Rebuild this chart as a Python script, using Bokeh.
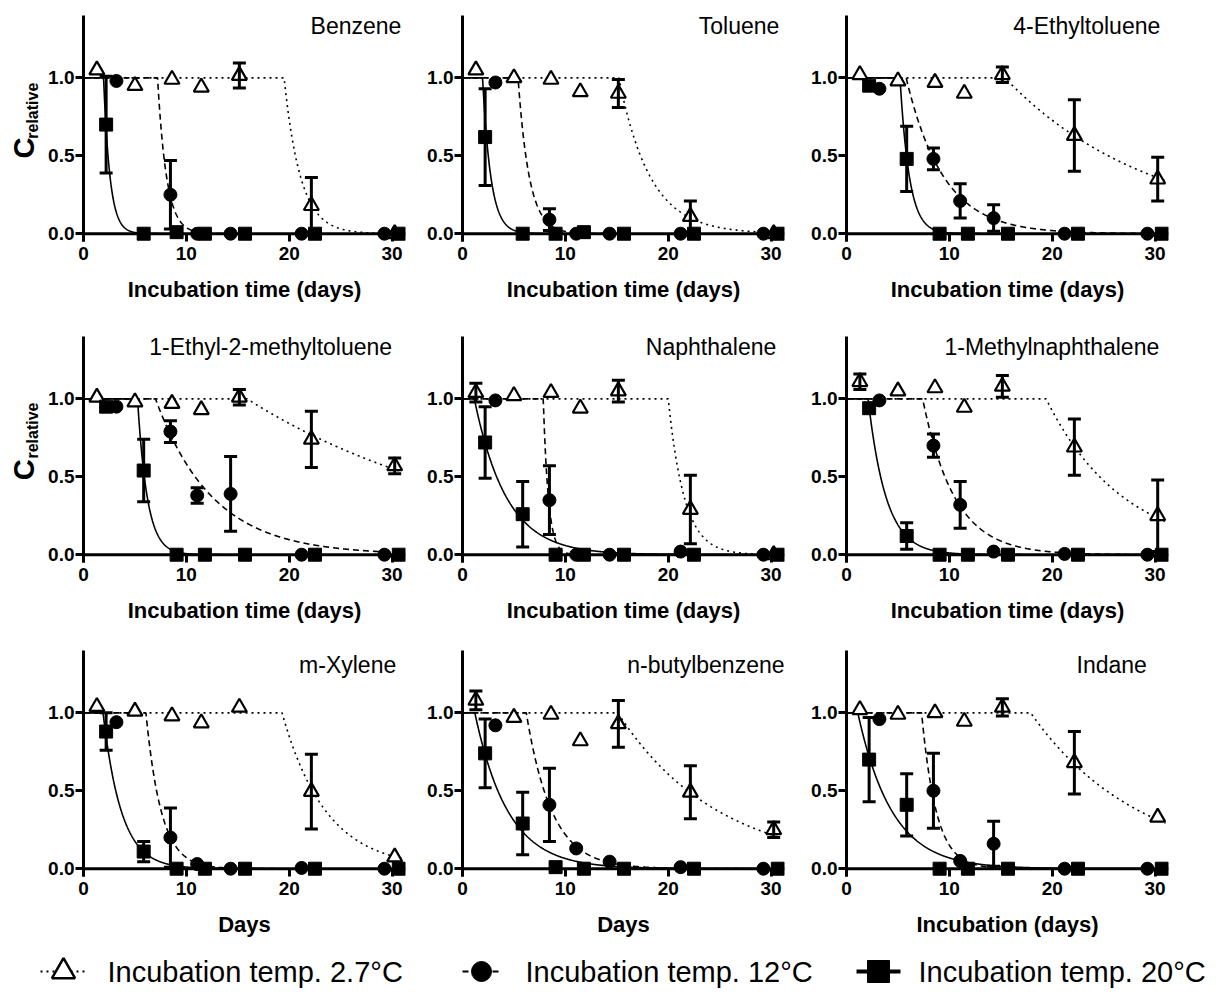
import numpy as np
from bokeh.plotting import figure
from bokeh.layouts import column, row
from bokeh.models import FixedTicker, PrintfTickFormatter, Range1d, Span, Spacer, Label
from bokeh.embed import file_html
from bokeh.resources import INLINE
from bokeh.core.properties import value

# ---------------- data ----------------
compounds = ["Benzene", "Toluene", "4-Ethyltoluene",
             "1-Ethyl-2-methyltoluene", "Naphthalene", "1-Methylnaphthalene",
             "m-Xylene", "n-butylbenzene", "Indane"]
x_titles = ["Incubation time (days)"] * 6 + ["Days", "Days", "Incubation (days)"]
legend_labels = ["Incubation temp. 2.7°C", "Incubation temp. 12°C", "Incubation temp. 20°C"]
x_ticks = [0, 10, 20, 30]
y_ticks = [0.0, 0.5, 1.0]

# sampling days for each incubation temperature
t_tri = [1.3, 5.0, 8.6, 11.45, 15.15, 22.15, 30.25]   # 2.7 C
t_cir = [3.2, 8.45, 11.05, 14.3, 21.2, 29.25]        # 12 C
t_sq = [2.2, 5.85, 9.05, 11.8, 15.7, 22.5, 30.65]     # 20 C

# relative concentrations, 2.7 C (triangles)
tri_vals = [
    [1.05, 0.95, 0.99, 0.94, 1.015, 0.18, 0.0],
    [1.05, 1.00, 0.99, 0.91, 0.90, 0.11, 0.0],
    [1.02, 0.98, 0.97, 0.90, 1.02, 0.63, 0.35],
    [1.01, 0.98, 0.97, 0.93, 1.01, 0.74, 0.57],
    [1.04, 1.02, 1.04, 0.94, 1.05, 0.29, 0.0],
    [1.11, 1.05, 1.07, 0.945, 1.08, 0.69, 0.25],
    [1.04, 1.01, 0.98, 0.935, 1.035, 0.495, 0.075],
    [1.08, 0.97, 0.99, 0.82, 0.93, 0.49, 0.25],
    [1.02, 0.99, 1.00, 0.945, 1.035, 0.68, 0.33],
]
tri_errs = [
    [0, 0, 0, 0, 0.08, 0.18, 0],
    [0, 0, 0, 0, 0.09, 0.10, 0],
    [0, 0, 0, 0, 0.05, 0.23, 0.14],
    [0, 0, 0, 0, 0.05, 0.18, 0.05],
    [0.06, 0, 0, 0, 0.07, 0.22, 0],
    [0.05, 0, 0, 0, 0.07, 0.18, 0.23],
    [0, 0, 0, 0, 0, 0.24, 0],
    [0.06, 0, 0, 0, 0.15, 0.17, 0.05],
    [0, 0, 0, 0, 0.055, 0.20, 0],
]
# 12 C (circles)
cir_vals = [
    [0.98, 0.25, 0.0, 0.0, 0.0, 0.0],
    [0.97, 0.09, 0.0, 0.0, 0.0, 0.0],
    [0.93, 0.48, 0.21, 0.10, 0.0, 0.0],
    [0.95, 0.79, 0.38, 0.39, 0.0, 0.0],
    [0.99, 0.35, 0.0, 0.0, 0.02, 0.0],
    [0.99, 0.70, 0.32, 0.02, 0.005, 0.0],
    [0.94, 0.20, 0.03, 0.0, 0.005, 0.0],
    [0.92, 0.41, 0.13, 0.045, 0.01, 0.0],
    [0.96, 0.50, 0.05, 0.16, 0.0, 0.0],
]
cir_errs = [
    [0, 0.22, 0, 0, 0, 0],
    [0, 0.07, 0, 0, 0, 0],
    [0, 0.07, 0.11, 0.085, 0, 0],
    [0, 0.07, 0.05, 0.24, 0, 0],
    [0, 0.22, 0, 0, 0, 0],
    [0, 0.075, 0.15, 0, 0, 0],
    [0, 0.19, 0, 0, 0, 0],
    [0, 0.235, 0, 0, 0, 0],
    [0, 0.24, 0, 0.145, 0, 0],
]
# 20 C (squares)
sq_vals = [
    [0.70, 0.0, 0.01, 0.0, 0.0, 0.0, 0.0],
    [0.62, 0.0, 0.0, 0.01, 0.0, 0.0, 0.0],
    [0.95, 0.48, 0.0, 0.0, 0.0, 0.0, 0.0],
    [0.95, 0.54, 0.0, 0.0, 0.0, 0.0, 0.0],
    [0.72, 0.26, 0.0, 0.0, 0.0, 0.0, 0.0],
    [0.94, 0.12, 0.0, 0.0, 0.0, 0.0, 0.0],
    [0.88, 0.11, 0.0, 0.0, 0.0, 0.0, 0.0],
    [0.74, 0.29, 0.01, 0.0, 0.0, 0.0, 0.0],
    [0.70, 0.41, 0.0, 0.0, 0.0, 0.0, 0.0],
]
sq_errs = [
    [0.31, 0, 0, 0, 0, 0, 0],
    [0.31, 0, 0, 0, 0, 0, 0],
    [0, 0.21, 0, 0, 0, 0, 0],
    [0, 0.20, 0, 0, 0, 0, 0],
    [0.23, 0.21, 0, 0, 0, 0, 0],
    [0, 0.085, 0, 0, 0, 0, 0],
    [0.12, 0.065, 0, 0, 0, 0, 0],
    [0.22, 0.20, 0, 0, 0, 0, 0],
    [0.27, 0.20, 0, 0, 0, 0, 0],
]
# fitted lag-exponential model parameters (lag in days, rate per day)
tri_lag = [19.5, 15.2, 15.4, 15.9, 20.0, 19.4, 19.3, 15.1, 17.9]
tri_k = [0.63, 0.33, 0.069, 0.042, 0.64, 0.133, 0.234, 0.102, 0.094]
cir_lag = [7.2, 5.4, 5.8, 7.0, 7.85, 7.4, 6.07, 6.2, 7.3]
cir_k = [1.15, 0.92, 0.276, 0.18, 2.0, 0.32, 0.67, 0.40, 0.70]
sq_lag = [1.95, 1.95, 5.2, 5.25, 1.15, 2.1, 1.9, 1.2, 1.1]
sq_k = [1.6, 1.25, 1.1, 1.05, 0.32, 0.57, 0.56, 0.31, 0.30]

# ---------------- layout ----------------
FONT = "Liberation Sans"
LBL_W = 40
col_w = [375, 379, 384]
col_left = [43, 47, 52]
row_h = [329, 314, 302]
row_top = [15, 7, 7]
row_bottom = [88, 81, 69]
title_pos = [(30.9, 1.33), (30.8, 1.33), (30.5, 1.33),
             (30.0, 1.335), (30.5, 1.335), (30.4, 1.335),
             (30.4, 1.31), (31.3, 1.31), (29.2, 1.31)]
XMAX, YMIN, YMAX = 31.3, -0.05, 1.4


def fit_curve(xs, lag, k):
    return np.where(xs < lag, 1.0, np.exp(-k * (xs - lag)))


def error_bars(p, t, v, e):
    t = np.asarray(t, float); v = np.asarray(v, float); e = np.asarray(e, float)
    m = e > 0
    if not m.any():
        return
    p.segment(x0=t[m], y0=v[m] - e[m], x1=t[m], y1=v[m] + e[m],
              line_color="black", line_width=3)
    p.scatter(np.concatenate([t[m], t[m]]), np.concatenate([v[m] - e[m], v[m] + e[m]]),
              marker="dash", size=13, line_color="black", line_width=3)


def panel(i):
    r, c = divmod(i, 3)
    p = figure(width=col_w[c], height=row_h[r],
               x_range=Range1d(0, XMAX), y_range=Range1d(YMIN, YMAX),
               output_backend="svg", toolbar_location=None,
               min_border_left=col_left[c], min_border_right=10,
               min_border_top=row_top[r], min_border_bottom=row_bottom[r])
    p.outline_line_color = None
    p.xgrid.visible = False
    p.ygrid.visible = False

    xs = np.linspace(0, 31, 931)
    p.line(xs, fit_curve(xs, tri_lag[i], tri_k[i]), line_color="black",
           line_width=1.6, line_dash="2 4")
    p.line(xs, fit_curve(xs, cir_lag[i], cir_k[i]), line_color="black",
           line_width=1.6, line_dash="6 4")
    p.line(xs, fit_curve(xs, sq_lag[i], sq_k[i]), line_color="black",
           line_width=1.6)
    p.add_layout(Span(location=0, dimension="width", line_color="black", line_width=3))

    p.scatter(t_tri, tri_vals[i], marker="triangle", size=15,
              fill_color="white", line_color="black", line_width=2.2)
    error_bars(p, t_tri, tri_vals[i], tri_errs[i])
    error_bars(p, t_cir, cir_vals[i], cir_errs[i])
    p.scatter(t_cir, cir_vals[i], marker="circle", size=13,
              fill_color="black", line_color="black")
    error_bars(p, t_sq, sq_vals[i], sq_errs[i])
    p.scatter(t_sq, sq_vals[i], marker="square", size=13,
              fill_color="black", line_color="black")

    for ax in (p.xaxis, p.yaxis):
        ax.major_tick_line_width = 3
        ax.major_tick_line_color = "black"
        ax.minor_tick_line_color = None
        ax.major_label_text_font = FONT
        ax.major_label_text_font_style = "bold"
        ax.major_label_text_font_size = "19px"
        ax.major_label_text_color = "black"
    # x axis: line drawn at y=0 by the Span, ticks reach up from frame bottom to 0
    p.xaxis.axis_line_color = None
    p.xaxis.major_tick_in = 8
    p.xaxis.major_tick_out = 0
    p.xaxis.ticker = FixedTicker(ticks=x_ticks)
    p.xaxis.major_label_standoff = 5
    p.xaxis.axis_label = x_titles[i]
    p.xaxis.axis_label_text_font = FONT
    p.xaxis.axis_label_text_font_style = "bold"
    p.xaxis.axis_label_text_font_size = "22px"
    p.xaxis.axis_label_text_color = "black"
    p.xaxis.axis_label_standoff = 14
    # y axis
    p.yaxis.axis_line_width = 3
    p.yaxis.axis_line_color = "black"
    p.yaxis.major_tick_in = 0
    p.yaxis.major_tick_out = 8
    p.yaxis.ticker = FixedTicker(ticks=y_ticks)
    p.yaxis.formatter = PrintfTickFormatter(format="%.1f")
    p.yaxis.major_label_standoff = 1

    tx, ty = title_pos[i]
    p.add_layout(Label(x=tx, y=ty, text=compounds[i], text_align="right",
                       text_baseline="middle", text_font=FONT,
                       text_font_size="23px", text_color="black"))
    return p


def ylabel_fig(r):
    h = row_h[r]
    f = figure(width=LBL_W, height=h, x_range=Range1d(0, LBL_W), y_range=Range1d(0, h),
               output_backend="svg", toolbar_location=None, min_border=0,
               min_border_left=0, min_border_right=0, min_border_top=0, min_border_bottom=0)
    f.axis.visible = False
    f.grid.visible = False
    f.outline_line_color = None
    frame_h = h - row_top[r] - row_bottom[r]
    yc = h - row_top[r] - frame_h * (YMAX - 0.7) / (YMAX - YMIN)
    f.text(x=[23], y=[yc - 69], text=["C"], angle=np.pi / 2,
           text_align="center", text_baseline="middle",
           text_font=value(FONT), text_font_style="bold",
           text_font_size=value("29px"), text_color="black")
    f.text(x=[31.5], y=[yc - 14.5], text=["relative"], angle=np.pi / 2,
           text_align="center", text_baseline="middle",
           text_font=value(FONT), text_font_style="bold",
           text_font_size=value("16px"), text_color="black")
    return f


panels = [panel(i) for i in range(9)]
rows = []
for r in range(3):
    first = ylabel_fig(r) if r < 2 else Spacer(width=LBL_W, height=row_h[r])
    rows.append(row(first, *panels[3 * r:3 * r + 3]))

# ---------------- legend ----------------
LEG_H = 45
LEG_W = 1220
leg = figure(width=LEG_W, height=LEG_H, x_range=Range1d(0, LEG_W), y_range=Range1d(0, LEG_H),
             output_backend="svg", toolbar_location=None,
             min_border=0, min_border_left=0, min_border_right=0,
             min_border_top=0, min_border_bottom=0)
leg.axis.visible = False
leg.grid.visible = False
leg.outline_line_color = None
ly = 19
leg.line([40, 86], [ly, ly], line_color="black", line_width=2, line_dash="2 4")
leg.scatter([63], [ly], marker="triangle", size=23, fill_color="white",
            line_color="black", line_width=2.5)
leg.line([462, 502], [ly, ly], line_color="black", line_width=2, line_dash="6 4")
leg.scatter([481], [ly], marker="circle", size=20, fill_color="black", line_color="black")
leg.line([856, 900], [ly, ly], line_color="black", line_width=4)
leg.scatter([878], [ly], marker="square", size=22, fill_color="black", line_color="black")
leg.text(x=[107, 525, 918], y=[ly] * 3, text=legend_labels,
         text_font=value(FONT), text_font_size=value("29px"),
         text_align="left", text_baseline="middle", text_color="black")

layout = column(*rows, leg)
open("out.html", "w").write(file_html(layout, INLINE))
